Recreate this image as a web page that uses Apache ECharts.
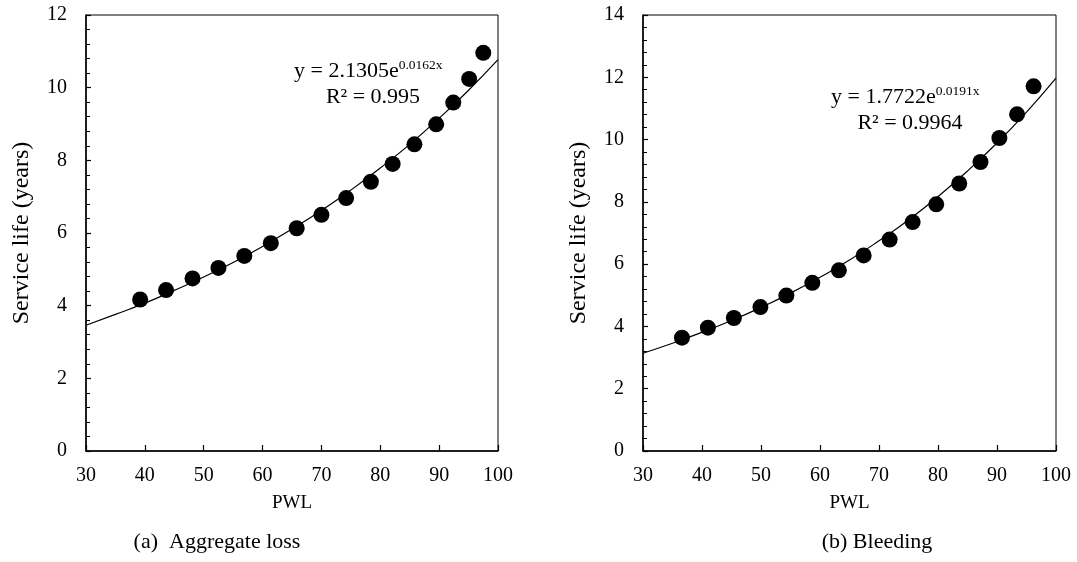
<!DOCTYPE html>
<html>
<head>
<meta charset="utf-8">
<script src="https://cdn.jsdelivr.net/npm/echarts@6/dist/echarts.min.js"></script>
<style>html,body{margin:0;padding:0;background:#fff}#c{width:1077px;height:562px}</style>
</head>
<body>
<div id="c"></div>
<script>
// (a) Aggregate loss — measured points [PWL, service life]
const aggPWL = [39.2, 43.6, 48.1, 52.5, 56.9, 61.4, 65.8, 70.0, 74.2, 78.4, 82.1, 85.8, 89.5, 92.4, 95.1, 97.5];
const aggLife = [4.17, 4.43, 4.75, 5.04, 5.37, 5.72, 6.13, 6.50, 6.96, 7.41, 7.90, 8.44, 8.99, 9.59, 10.24, 10.96];
// (a) trend curve
const aggTrendX = [30, 35, 40, 45, 50, 55, 60, 65, 70, 75, 80, 85, 90, 95, 100];
const aggTrendY = [3.46, 3.76, 4.07, 4.42, 4.79, 5.19, 5.63, 6.11, 6.62, 7.18, 7.79, 8.44, 9.16, 9.93, 10.77];

// (b) Bleeding — measured points
const bleedPWL = [36.6, 41.0, 45.4, 49.9, 54.3, 58.7, 63.2, 67.4, 71.8, 75.7, 79.7, 83.6, 87.2, 90.4, 93.4, 96.2];
const bleedLife = [3.64, 3.96, 4.27, 4.62, 4.99, 5.40, 5.80, 6.28, 6.79, 7.35, 7.92, 8.59, 9.28, 10.05, 10.81, 11.71];
// (b) trend curve
const bleedTrendX = [30, 35, 40, 45, 50, 55, 60, 65, 70, 75, 80, 85, 90, 95, 100];
const bleedTrendY = [3.14, 3.46, 3.81, 4.19, 4.61, 5.07, 5.58, 6.13, 6.75, 7.42, 8.17, 8.99, 9.89, 10.88, 11.97];

const xTicks = [30, 40, 50, 60, 70, 80, 90, 100];
const aggYTicks = [0, 2, 4, 6, 8, 10, 12];
const bleedYTicks = [0, 2, 4, 6, 8, 10, 12, 14];

const captions = ['(a)  Aggregate loss', '(b) Bleeding'];
const equations = [['y = 2.1305e', '0.0162x', 'R² = 0.995'], ['y = 1.7722e', '0.0191x', 'R² = 0.9964']];
const yTitle = 'Service life (years)';
const xTitle = 'PWL';

const FONT = '"Liberation Serif", "Times New Roman", serif';
const zip = (a, b) => a.map((v, i) => [v, b[i]]);

function xAxis(gi) {
  return {
    type: 'value', gridIndex: gi, min: xTicks[0], max: xTicks[xTicks.length - 1], interval: 10,
    name: xTitle, nameLocation: 'middle', nameGap: 43,
    nameTextStyle: { fontFamily: FONT, fontSize: 19, color: '#000' },
    axisLine: { show: true, onZero: false, lineStyle: { color: '#000', width: 1.5 } },
    axisTick: { show: true, inside: true, length: 6, lineStyle: { color: '#000', width: 1.2 } },
    minorTick: { show: false },
    splitLine: { show: false },
    axisLabel: { fontFamily: FONT, fontSize: 20, color: '#000', margin: 15 }
  };
}
function yAxis(gi, ticks) {
  return {
    type: 'value', gridIndex: gi, min: ticks[0], max: ticks[ticks.length - 1], interval: 2,
    name: yTitle, nameLocation: 'middle', nameGap: 52,
    nameTextStyle: { fontFamily: FONT, fontSize: 24, color: '#000' },
    axisLine: { show: true, onZero: false, lineStyle: { color: '#000', width: 1.5 } },
    axisTick: { show: true, inside: true, length: 5, lineStyle: { color: '#000', width: 1.2 } },
    minorTick: { show: true, splitNumber: 5, length: 4, lineStyle: { color: '#000', width: 1 } },
    splitLine: { show: false },
    axisLabel: { fontFamily: FONT, fontSize: 20, color: '#000', margin: 19 }
  };
}

function eqText(eq, x, y1, cx2, y2) {
  return [
    { type: 'text', left: x, top: y1 - 13, z: 10, style: {
        text: '{a|' + eq[0] + '}{b|' + eq[1] + '}',
        rich: { a: { fontFamily: FONT, fontSize: 22, fill: '#000', lineHeight: 26, verticalAlign: 'middle' },
                b: { fontFamily: FONT, fontSize: 13.5, fill: '#000', lineHeight: 19, verticalAlign: 'top' } } } },
    { type: 'text', x: cx2, y: y2, z: 10, style: { text: eq[2], fontFamily: FONT, fontSize: 22, fill: '#000', align: 'center', verticalAlign: 'middle' } }
  ];
}

const chart = echarts.init(document.getElementById('c'), null, { renderer: 'canvas' });
chart.setOption({
  backgroundColor: '#fff',
  animation: false,
  grid: [
    { left: 86, right: 579, top: 15, bottom: 111, show: true, borderColor: '#000', borderWidth: 1, backgroundColor: 'transparent' },
    { left: 643, right: 21, top: 15, bottom: 111, show: true, borderColor: '#000', borderWidth: 1, backgroundColor: 'transparent' }
  ],
  xAxis: [xAxis(0), xAxis(1)],
  yAxis: [yAxis(0, aggYTicks), yAxis(1, bleedYTicks)],
  series: [
    { type: 'line', xAxisIndex: 0, yAxisIndex: 0, data: zip(aggTrendX, aggTrendY), smooth: true, showSymbol: false,
      lineStyle: { color: '#000', width: 1.2 }, z: 2 },
    { type: 'scatter', xAxisIndex: 0, yAxisIndex: 0, data: zip(aggPWL, aggLife), symbol: 'circle', symbolSize: 16,
      itemStyle: { color: '#000', opacity: 1 }, z: 3 },
    { type: 'line', xAxisIndex: 1, yAxisIndex: 1, data: zip(bleedTrendX, bleedTrendY), smooth: true, showSymbol: false,
      lineStyle: { color: '#000', width: 1.2 }, z: 2 },
    { type: 'scatter', xAxisIndex: 1, yAxisIndex: 1, data: zip(bleedPWL, bleedLife), symbol: 'circle', symbolSize: 16,
      itemStyle: { color: '#000', opacity: 1 }, z: 3 }
  ],
  graphic: [].concat(
    eqText(equations[0], 294, 71, 373, 97),
    eqText(equations[1], 831, 97, 910, 123),
    [
      { type: 'text', x: 217, y: 542, z: 10, style: { text: captions[0], fontFamily: FONT, fontSize: 22, fill: '#000', align: 'center', verticalAlign: 'middle' } },
      { type: 'text', x: 877, y: 542, z: 10, style: { text: captions[1], fontFamily: FONT, fontSize: 22, fill: '#000', align: 'center', verticalAlign: 'middle' } }
    ]
  )
});
</script>
</body>
</html>
